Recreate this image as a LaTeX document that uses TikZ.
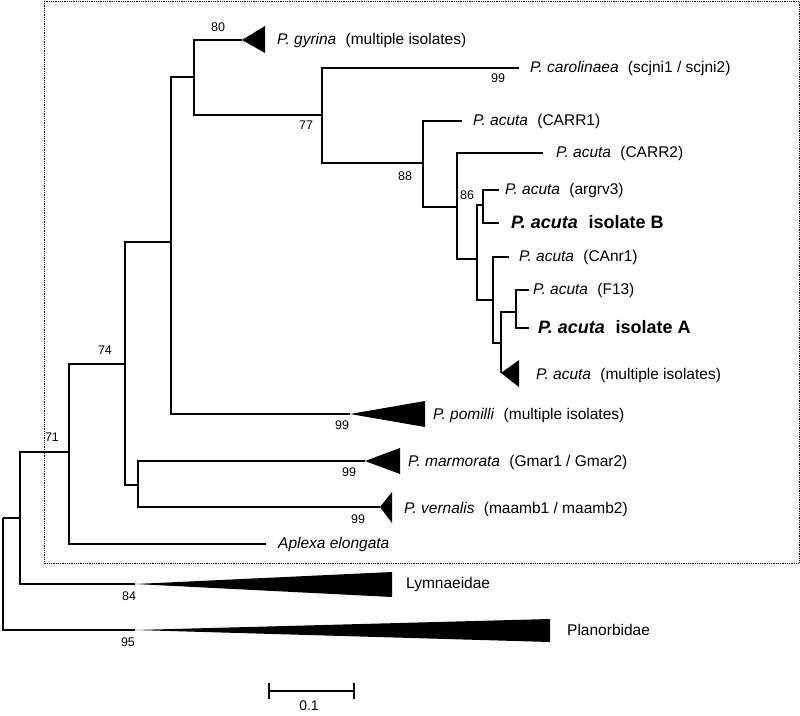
\documentclass[tikz,border=0pt]{standalone}
\usepackage{fontspec}
\setmainfont{Liberation Sans}
\newcommand{\tgap}{\hspace{0.6em}}
\tikzset{
  branch/.style={line width=1.8pt, line join=miter},
  clade/.style={fill=black},
  taxon/.style={anchor=west, inner sep=0pt, font=\fontsize{15.5}{18}\selectfont},
  strain/.style={taxon, font=\fontsize{18}{21}\selectfont\bfseries},
  boot/.style={inner sep=0pt, font=\fontsize{12.5}{14}\selectfont}
}

\begin{document}
\begin{tikzpicture}[x=1pt,y=-1pt]
\useasboundingbox (0,0) rectangle (800,715);

% ingroup box
\draw[densely dotted, line width=0.8pt] (44,1) rectangle (799,563);

% internal nodes
\coordinate (R) at (3,518);
\coordinate (n71) at (20,518);
\coordinate (n74) at (69,452);
\coordinate (nA) at (125,364);
\coordinate (nB) at (171,242);
\coordinate (nC) at (138,485);
\coordinate (nD) at (194,77);
\coordinate (nE) at (322,115);
\coordinate (nF) at (423,163);
\coordinate (nG) at (457,207);
\coordinate (nH) at (477,259);
\coordinate (nI) at (483,205);
\coordinate (nJ) at (493,300);
\coordinate (nK) at (501,343);
\coordinate (nL) at (516,312);

% tips
\coordinate (tGyr) at (242,40);
\coordinate (tCar) at (519,68);
\coordinate (tCARR1) at (462,121);
\coordinate (tCARR2) at (543,153);
\coordinate (tArg) at (499,190);
\coordinate (tIsoB) at (499,223);
\coordinate (tCAnr) at (509,257);
\coordinate (tF13) at (529,290);
\coordinate (tIsoA) at (529,328);
\coordinate (tAcu) at (501,373);
\coordinate (tPom) at (350,414);
\coordinate (tMar) at (365,461);
\coordinate (tVer) at (380,507);
\coordinate (tApl) at (266,544);
\coordinate (tLym) at (135,584);
\coordinate (tPla) at (135,630);

% branches
\draw[branch] (R) |- (n71);
\draw[branch] (R) |- (tPla);
\draw[branch] (n71) |- (n74);
\draw[branch] (n71) |- (tLym);
\draw[branch] (n74) |- (nA);
\draw[branch] (n74) |- (tApl);
\draw[branch] (nA) |- (nB);
\draw[branch] (nA) |- (nC);
\draw[branch] (nC) |- (tMar);
\draw[branch] (nC) |- (tVer);
\draw[branch] (nB) |- (nD);
\draw[branch] (nB) |- (tPom);
\draw[branch] (nD) |- (tGyr);
\draw[branch] (nD) |- (nE);
\draw[branch] (nE) |- (tCar);
\draw[branch] (nE) |- (nF);
\draw[branch] (nF) |- (tCARR1);
\draw[branch] (nF) |- (nG);
\draw[branch] (nG) |- (tCARR2);
\draw[branch] (nG) |- (nH);
\draw[branch] (nH) |- (nI);
\draw[branch] (nH) |- (nJ);
\draw[branch] (nI) |- (tArg);
\draw[branch] (nI) |- (tIsoB);
\draw[branch] (nJ) |- (tCAnr);
\draw[branch] (nJ) |- (nK);
\draw[branch] (nK) |- (nL);
\draw[branch] (nK) -- (tAcu);
\draw[branch] (nL) |- (tF13);
\draw[branch] (nL) |- (tIsoA);

% collapsed clades
\fill[clade] (tGyr) -- ++(23,-14) -- ++(0,27) -- cycle;
\fill[clade] (tAcu) -- ++(18,-13) -- ++(0,27) -- cycle;
\fill[clade] (tPom) -- ++(75,-13) -- ++(0,26) -- cycle;
\fill[clade] (tMar) -- ++(35,-13) -- ++(0,26) -- cycle;
\fill[clade] (tVer) -- ++(12,-15) -- ++(0,31) -- cycle;
\fill[clade] (tLym) -- ++(257,-12) -- ++(0,25) -- cycle;
\fill[clade] (tPla) -- ++(415,-11) -- ++(0,23) -- cycle;

% taxa
\node[taxon] (lGyr) at (277,40) {\textit{P. gyrina}\tgap(multiple isolates)};
\node[taxon] (lCar) at (530,68) {\textit{P. carolinaea}\tgap(scjni1 / scjni2)};
\node[taxon] (lCARR1) at (473,121) {\textit{P. acuta}\tgap(CARR1)};
\node[taxon] (lCARR2) at (556,153) {\textit{P. acuta}\tgap(CARR2)};
\node[taxon] (lArg) at (505,190) {\textit{P. acuta}\tgap(argrv3)};
\node[strain] (lIsoB) at (511,222) {\textit{P. acuta}\tgap isolate B};
\node[taxon] (lCAnr) at (519,257) {\textit{P. acuta}\tgap(CAnr1)};
\node[taxon] (lF13) at (533,290) {\textit{P. acuta}\tgap(F13)};
\node[strain] (lIsoA) at (538,327) {\textit{P. acuta}\tgap isolate A};
\node[taxon] (lAcu) at (536,375) {\textit{P. acuta}\tgap(multiple isolates)};
\node[taxon] (lPom) at (433,415) {\textit{P. pomilli}\tgap(multiple isolates)};
\node[taxon] (lMar) at (408,462) {\textit{P. marmorata}\tgap(Gmar1 / Gmar2)};
\node[taxon] (lVer) at (404,509) {\textit{P. vernalis}\tgap(maamb1 / maamb2)};
\node[taxon] (lApl) at (278,544) {\textit{Aplexa elongata}};
\node[taxon] (lLym) at (406,584) {Lymnaeidae};
\node[taxon] (lPla) at (567,630) {Planorbidae};

% bootstrap values
\node[boot] (b80) at (218,27) {80};
\node[boot] (b77) at (306,125) {77};
\node[boot] (b99c) at (498,78) {99};
\node[boot] (b88) at (405,176) {88};
\node[boot] (b86) at (467,195) {86};
\node[boot] (b74) at (105,350) {74};
\node[boot] (b71) at (52,437) {71};
\node[boot] (b99p) at (342,425) {99};
\node[boot] (b99m) at (349,472) {99};
\node[boot] (b99v) at (358,519) {99};
\node[boot] (b84) at (129,596) {84};
\node[boot] (b95) at (128,642) {95};

% scale bar
\coordinate (sbL) at (269,691);
\coordinate (sbR) at (354,691);
\draw[branch] (sbL) -- (sbR);
\draw[branch] (sbL) ++(0,-8) -- ++(0,16);
\draw[branch] (sbR) ++(0,-8) -- ++(0,16);
\node[boot, font=\fontsize{14}{16}\selectfont] (lScale) at (309,706) {0.1};

\end{tikzpicture}
\end{document}
